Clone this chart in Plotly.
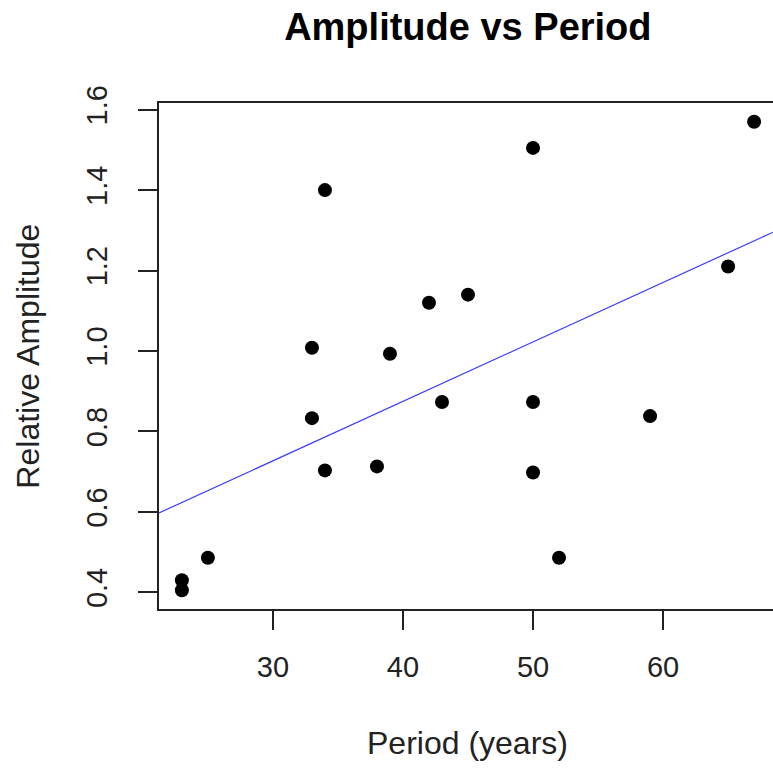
import numpy as np
import plotly.graph_objects as go

period = [23, 23, 25, 33, 33, 34, 34, 38, 39, 42, 43, 45, 50, 50, 50, 52, 59, 65, 67]
amplitude = [0.43, 0.405, 0.486, 0.833, 1.008, 1.40, 0.703, 0.713, 0.993, 1.12,
             0.873, 1.14, 1.505, 0.873, 0.698, 0.486, 0.838, 1.21, 1.57]
x_ticks = [30, 40, 50, 60]
y_ticks = [0.4, 0.6, 0.8, 1.0, 1.2, 1.4, 1.6]
y_tick_labels = ["0.4", "0.6", "0.8", "1.0", "1.2", "1.4", "1.6"]

W, H = 773, 769
ml, mt = 159.3, 102.7
mb = H - 609.3

xr = max(period) - min(period)
x_lo = min(period) - 0.04 * xr
x_hi_full = max(period) + 0.04 * xr
# plot box extends slightly past the right edge of the image (cropped)
full_px = 777 - ml
vis_px = W - ml
x_hi = x_lo + (x_hi_full - x_lo) * vis_px / full_px

yr = max(amplitude) - min(amplitude)
y_lo = min(amplitude) - 0.04 * yr
y_hi = max(amplitude) + 0.04 * yr

slope, intercept = np.polyfit(period, amplitude, 1)
line_x = [x_lo, x_hi]
line_y = [intercept + slope * v for v in line_x]

font = "Liberation Sans, Arial, sans-serif"

fig = go.Figure()
fig.add_trace(go.Scatter(x=line_x, y=line_y, mode="lines",
                         line=dict(color="rgb(60,60,255)", width=1.2),
                         hoverinfo="skip", showlegend=False))
fig.add_trace(go.Scatter(x=period, y=amplitude, mode="markers",
                         marker=dict(color="black", size=14, line=dict(width=0)),
                         showlegend=False))

axis_common = dict(showgrid=False, zeroline=False, showline=True,
                   linecolor="#222222", linewidth=1.5, ticks="outside",
                   ticklen=19, tickwidth=1.5, tickcolor="#222222",
                   tickfont=dict(family=font, size=29, color="#222222"))

fig.update_xaxes(range=[x_lo, x_hi], tickvals=x_ticks, mirror=True,
                 ticklabelstandoff=12, **axis_common)
fig.update_yaxes(range=[y_lo, y_hi], tickvals=y_ticks, ticktext=y_tick_labels,
                 tickangle=-90, mirror=False, ticklabelstandoff=20, **axis_common)

plot_h = 609.3 - 102.7
center_x = (468 - ml) / vis_px
fig.update_layout(
    width=W, height=H,
    margin=dict(l=ml, r=0, t=mt, b=mb, pad=0),
    plot_bgcolor="white", paper_bgcolor="white",
    title=dict(text="<b>Amplitude vs Period</b>", x=center_x, xref="paper",
               xanchor="center", y=1 - 26.5 / H, yref="container",
               yanchor="middle",
               font=dict(family=font, size=38, color="black")),
    annotations=[
        dict(text="Period (years)", xref="paper", yref="paper",
             x=center_x, y=(609.3 - 743) / plot_h, xanchor="center",
             yanchor="middle", showarrow=False,
             font=dict(family=font, size=32, color="#222222")),
        dict(text="Relative Amplitude", xref="paper", yref="paper",
             x=(28 - ml) / vis_px, y=0.5, xanchor="center", yanchor="middle",
             textangle=-90, showarrow=False,
             font=dict(family=font, size=32, color="#222222")),
    ],
)

fig.write_html("out.html", config={"displayModeBar": False},
               post_script="document.body.style.margin='0';document.body.style.overflow='hidden';")
